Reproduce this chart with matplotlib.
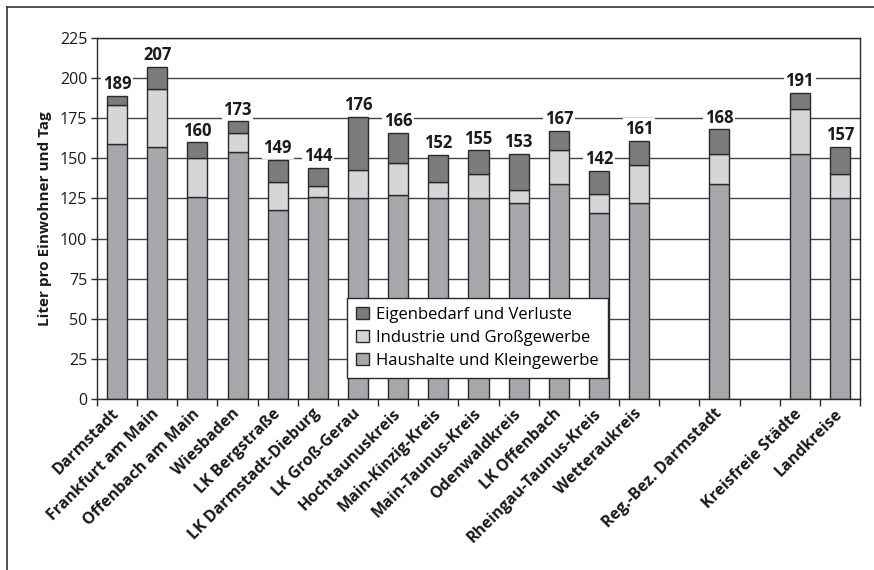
import numpy as np
import matplotlib
matplotlib.use("Agg")
import matplotlib.pyplot as plt
from matplotlib.lines import Line2D
from matplotlib.ticker import FixedLocator

plt.rcParams['font.family'] = ['Open Sans', 'DejaVu Sans']

# Wasserverbrauch je Einwohner und Tag (Liter), nach Kreisen
regions = ["Darmstadt", "Frankfurt am Main", "Offenbach am Main", "Wiesbaden",
           "LK Bergstraße", "LK Darmstadt-Dieburg", "LK Groß-Gerau",
           "Hochtaunuskreis", "Main-Kinzig-Kreis", "Main-Taunus-Kreis",
           "Odenwaldkreis", "LK Offenbach", "Rheingau-Taunus-Kreis",
           "Wetteraukreis", "", "Reg.-Bez. Darmstadt", "",
           "Kreisfreie Städte", "Landkreise"]
haushalte = [159, 157, 126, 154, 118, 126, 125, 127, 125, 125, 122, 134, 116, 122,
             np.nan, 134, np.nan, 153, 125]
industrie = [24, 36, 24, 12, 17, 7, 18, 20, 10, 15, 8, 21, 12, 24,
             np.nan, 19, np.nan, 28, 15]
eigenbedarf = [6, 14, 10, 7, 14, 11, 33, 19, 17, 15, 23, 12, 14, 15,
               np.nan, 15, np.nan, 10, 17]
totals = [189, 207, 160, 173, 149, 144, 176, 166, 152, 155, 153, 167, 142, 161,
          np.nan, 168, np.nan, 191, 157]

c_haus = "#a7a8ab"
c_ind = "#d5d6d8"
c_eig = "#7b7c7e"
edge = "#2a2a2a"
txt = "#1a1a1a"

fig = plt.figure(figsize=(8.74, 5.70), dpi=100)
ax = fig.add_axes([97 / 874, 1 - 399 / 570, (860 - 97) / 874, (399 - 38) / 570])

x = np.arange(len(regions))
h = np.array(haushalte, dtype=float)
i = np.array(industrie, dtype=float)
e = np.array(eigenbedarf, dtype=float)

w = 0.5
b1 = ax.bar(x, h, w, color=c_haus, edgecolor=edge, linewidth=1,
            label="Haushalte und Kleingewerbe", zorder=2)
b2 = ax.bar(x, i, w, bottom=h, color=c_ind, edgecolor=edge, linewidth=1,
            label="Industrie und Großgewerbe", zorder=2)
b3 = ax.bar(x, e, w, bottom=h + i, color=c_eig, edgecolor=edge, linewidth=1,
            label="Eigenbedarf und Verluste", zorder=2)

for xi, t in zip(x, totals):
    if np.isnan(t):
        continue
    ax.annotate(f"{t:.0f}", (xi, t), xytext=(0, 2), textcoords="offset points",
                ha="center", va="bottom", fontsize=12, fontweight="bold",
                color=txt, zorder=3,
                bbox=dict(boxstyle="square,pad=0.1", fc="white", ec="none"))

ax.set_xlim(-0.5, len(regions) - 0.5)
ax.set_ylim(0, 225)
ax.set_yticks(np.arange(0, 226, 25))
ax.yaxis.grid(True, color="#444444", linewidth=1, zorder=0)
ax.set_axisbelow(True)

ax.set_xticks(x)
ax.set_xticklabels(regions, rotation=45, ha="right", va="center",
                   rotation_mode="anchor", fontsize=11.5, fontweight="bold",
                   color=txt)
ax.xaxis.set_minor_locator(FixedLocator(np.arange(-0.5, len(regions), 1)))
ax.tick_params(axis="x", which="major", length=0, pad=9)
ax.tick_params(axis="x", which="minor", length=5, width=1, color=edge)
ax.tick_params(axis="y", length=4, width=1, color=edge, labelsize=11.5,
               labelcolor=txt, pad=3)

for s in ax.spines.values():
    s.set_color(edge)
    s.set_linewidth(1)

ax.set_ylabel("Liter pro Einwohner und Tag", fontsize=11, fontweight="bold",
              color=txt, labelpad=6)

handles = [b3, b2, b1]
leg = ax.legend(handles, [hh.get_label() for hh in handles],
                loc="lower left", bbox_to_anchor=((347 - 97) / 763, (399 - 378) / 361),
                fontsize=12, frameon=True, fancybox=False, framealpha=1,
                edgecolor=edge, handlelength=0.75, handleheight=0.75,
                handletextpad=0.45, labelspacing=0.42, borderpad=0.55,
                borderaxespad=0)
leg.get_frame().set_linewidth(1)
leg.set_zorder(5)

# Rahmen oben und links
fig.add_artist(Line2D([7 / 874, 7 / 874], [0, 1 - 7 / 570], color="#333333", lw=1.2))
fig.add_artist(Line2D([7 / 874, 1], [1 - 7 / 570, 1 - 7 / 570], color="#333333", lw=1.2))

fig.savefig("out.png", dpi=100)
